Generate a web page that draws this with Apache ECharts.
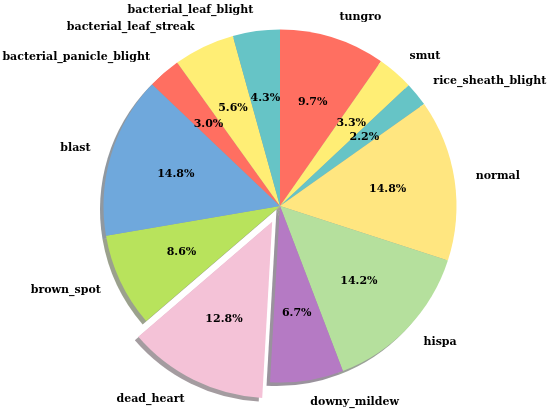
<!DOCTYPE html>
<html>
<head>
<meta charset="utf-8">
<script src="https://cdn.jsdelivr.net/npm/echarts@6/dist/echarts.min.js"></script>
<style>
	html, body { margin: 0; padding: 0; background: #fff; }
	#chart { width: 550px; height: 416px; }
</style>
</head>
<body>
<div id="chart"></div>
<script>
// categories clockwise from the top
var categories = ['tungro', 'smut', 'rice_sheath_blight', 'normal', 'hispa', 'downy_mildew',
	'dead_heart', 'brown_spot', 'blast', 'bacterial_panicle_blight', 'bacterial_leaf_streak', 'bacterial_leaf_blight'];
var percents = [9.7, 3.3, 2.2, 14.8, 14.2, 6.7, 12.8, 8.6, 14.8, 3.0, 5.6, 4.3];
var sliceColors = ['#ff6f61', '#ffee75', '#66c4c6', '#ffe680', '#b5e09d', '#b57ac4',
	'#f4c2d7', '#b8e35c', '#6fa8dc', '#ff6f61', '#ffee75', '#66c4c6'];
var explodedName = 'dead_heart';

(function(){
	var cx = 280, cy = 206, r = 176.5;
	var font = 'DejaVu Serif';

	function shade(hex)
	{
		// darker, half transparent copy for the drop shadow
		var n = parseInt(hex.slice(1), 16);
		var rr = Math.round(((n >> 16) & 255) * 0.3);
		var gg = Math.round(((n >> 8) & 255) * 0.3);
		var bb = Math.round((n & 255) * 0.3);
		return 'rgba(' + rr + ',' + gg + ',' + bb + ',0.5)';
	}

	function buildData(colorFn)
	{
		return categories.map(function(name, i){
			return {
				name: name,
				value: percents[i],
				selected: name === explodedName,
				itemStyle: { color: colorFn(sliceColors[i]) }
			};
		});
	}

	var common = {
		type: 'pie',
		startAngle: 90,
		clockwise: true,
		silent: true,
		animation: false,
		avoidLabelOverlap: false,
		selectedMode: 'single',
		selectedOffset: r * 0.1,
		select: { itemStyle: { borderWidth: 0 } },
		emphasis: { scale: false },
		labelLine: { show: false }
	};

	var option = {
		backgroundColor: '#ffffff',
		series: [
			Object.assign({}, common, {
				name: 'shadow',
				center: [cx - 3.5, cy + 3.5],
				radius: [0, r],
				label: { show: false },
				data: buildData(shade)
			}),
			Object.assign({}, common, {
				name: 'pie',
				center: [cx, cy],
				radius: [0, r],
				label: {
					show: true,
					position: 'outside',
					fontFamily: font,
					fontWeight: 'bold',
					fontSize: 11,
					color: '#000',
					distanceToLabelLine: 0,
					bleedMargin: 0,
					overflow: 'none'
				},
				labelLine: { show: false, length: 21.5, length2: 0 },
				data: buildData(function(c){ return c; })
			}),
			Object.assign({}, common, {
				name: 'pct',
				center: [cx, cy],
				radius: [0, r * 1.2],
				label: {
					show: true,
					position: 'inside',
					fontFamily: font,
					fontWeight: 'bold',
					fontSize: 11,
					color: '#000',
					formatter: function(p){ return p.value.toFixed(1) + '%'; }
				},
				data: buildData(function(){ return 'rgba(0,0,0,0)'; })
			})
		]
	};

	var myChart = echarts.init(document.getElementById('chart'));
	myChart.setOption(option);
})();
</script>
</body>
</html>
